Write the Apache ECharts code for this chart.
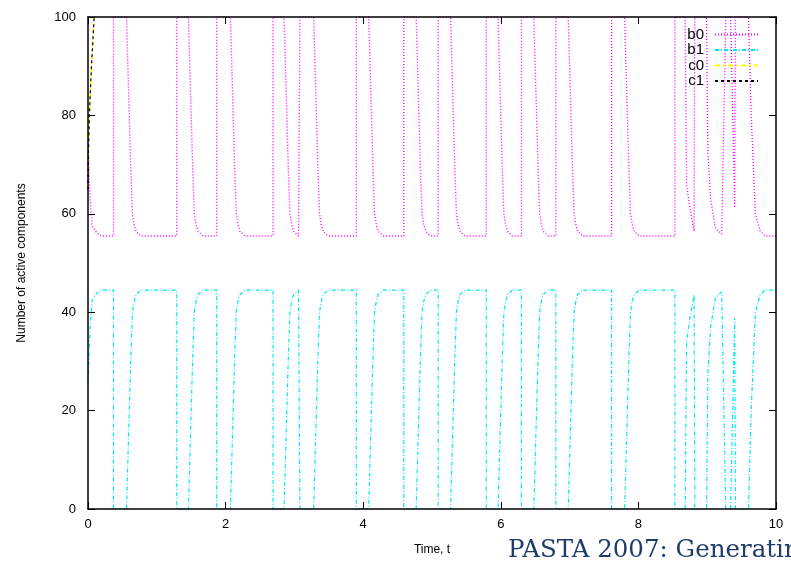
<!DOCTYPE html>
<html>
<head>
<meta charset="utf-8">
<script src="https://cdn.jsdelivr.net/npm/echarts@6/dist/echarts.min.js"></script>
<style>
  html, body { margin: 0; padding: 0; background: #fff; }
  #chart { width: 791px; height: 561px; }
</style>
</head>
<body>
<div id="chart"></div>
<script>
// time points shared by b0 / b1
const timeB = [
  0, 0.03, 0.06, 0.135, 0.2,
  0.37, 0.37, 0.56, 0.60, 0.62, 0.645, 0.67, 0.70, 0.77,
  1.29, 1.29, 1.46, 1.50, 1.52, 1.545, 1.57, 1.60, 1.67,
  1.87, 1.87, 2.07, 2.11, 2.13, 2.155, 2.18, 2.21, 2.28,
  2.69, 2.69, 2.85, 2.89, 2.91, 2.935, 2.96, 2.99, 3.06,
  3.08, 3.08, 3.28, 3.32, 3.34, 3.365, 3.39, 3.42, 3.49,
  3.90, 3.90, 4.08, 4.12, 4.14, 4.165, 4.19, 4.22, 4.29,
  4.59, 4.59, 4.77, 4.81, 4.83, 4.855, 4.88, 4.91, 4.98,
  5.09, 5.09, 5.27, 5.31, 5.33, 5.355, 5.38, 5.41, 5.48,
  5.79, 5.79, 5.96, 6.00, 6.02, 6.045, 6.07, 6.10, 6.17,
  6.30, 6.30, 6.48, 6.52, 6.54, 6.565, 6.59, 6.62, 6.69,
  6.80, 6.80, 6.98, 7.02, 7.04, 7.065, 7.09, 7.12, 7.19,
  7.61, 7.61, 7.80, 7.84, 7.86, 7.885, 7.91, 7.94, 8.01,
  8.53, 8.53, 8.68, 8.70, 8.75, 8.81, 8.82,
  8.99, 9.01, 9.05, 9.12, 9.21, 9.27,
  9.34, 9.40, 9.41,
  9.60, 9.64, 9.70, 9.77, 9.84, 10
];
const b0Values = [
  74.5, 63, 57.5, 56, 55.5,
  55.5, 100, 100, 80, 70, 60, 57.8, 56.4, 55.5,
  55.5, 100, 100, 80, 70, 60, 57.8, 56.4, 55.5,
  55.5, 100, 100, 80, 70, 60, 57.8, 56.4, 55.5,
  55.5, 100, 100, 80, 70, 60, 57.8, 56.4, 55.5,
  55.5, 100, 100, 80, 70, 60, 57.8, 56.4, 55.5,
  55.5, 100, 100, 80, 70, 60, 57.8, 56.4, 55.5,
  55.5, 100, 100, 80, 70, 60, 57.8, 56.4, 55.5,
  55.5, 100, 100, 80, 70, 60, 57.8, 56.4, 55.5,
  55.5, 100, 100, 80, 70, 60, 57.8, 56.4, 55.5,
  55.5, 100, 100, 80, 70, 60, 57.8, 56.4, 55.5,
  55.5, 100, 100, 80, 70, 60, 57.8, 56.4, 55.5,
  55.5, 100, 100, 80, 70, 60, 57.8, 56.4, 55.5,
  55.5, 100, 100, 66, 61, 56.5, 100,
  100, 72.4, 63, 57.1, 55.9, 100,
  100, 61.2, 100,
  100, 80, 60, 56.5, 55.5, 55.5
];
const b1Values = [
  25.5, 37, 42.5, 44, 44.5,
  44.5, 0, 0, 20, 30, 40, 42.2, 43.6, 44.5,
  44.5, 0, 0, 20, 30, 40, 42.2, 43.6, 44.5,
  44.5, 0, 0, 20, 30, 40, 42.2, 43.6, 44.5,
  44.5, 0, 0, 20, 30, 40, 42.2, 43.6, 44.5,
  44.5, 0, 0, 20, 30, 40, 42.2, 43.6, 44.5,
  44.5, 0, 0, 20, 30, 40, 42.2, 43.6, 44.5,
  44.5, 0, 0, 20, 30, 40, 42.2, 43.6, 44.5,
  44.5, 0, 0, 20, 30, 40, 42.2, 43.6, 44.5,
  44.5, 0, 0, 20, 30, 40, 42.2, 43.6, 44.5,
  44.5, 0, 0, 20, 30, 40, 42.2, 43.6, 44.5,
  44.5, 0, 0, 20, 30, 40, 42.2, 43.6, 44.5,
  44.5, 0, 0, 20, 30, 40, 42.2, 43.6, 44.5,
  44.5, 0, 0, 34, 39, 43.5, 0,
  0, 27.6, 37, 42.9, 44.1, 0,
  0, 38.8, 0,
  0, 20, 40, 43.5, 44.5, 44.5
];
// c0 / c1 only show at the very start, then leave the top of the range
const timeC = [0, 0.005, 0.02, 0.05, 0.09, 0.12];
const c0Values = [65, 72, 80, 90, 100, 108];
const c1Values = [65, 72, 80, 90, 100, 108];

const font = '"Liberation Sans", Arial, sans-serif';

function pairs(xs, ys) {
  return xs.map((x, i) => [x, ys[i]]);
}

const chart = echarts.init(document.getElementById('chart'), null, { renderer: 'canvas' });

// all four sides of the frame, ticks pointing inwards like gnuplot
const frameAxis = {
  z: 5,
  axisLine: { show: true, onZero: false, lineStyle: { color: '#000', width: 1.5 } },
  axisTick: { show: true, inside: true, length: 7, lineStyle: { color: '#000' } },
  splitLine: { show: false }
};

const option = {
  animation: false,
  backgroundColor: '#fff',
  grid: { left: 88, right: 15, top: 17, bottom: 52, containLabel: false },
  legend: {
    orient: 'vertical',
    right: 27,
    top: 22,
    align: 'right',
    itemWidth: 43,
    itemHeight: 14,
    itemGap: 0.5,
    textStyle: { fontFamily: font, fontSize: 15, color: '#000', padding: [0, 6, 0, 0] },
    itemStyle: { opacity: 0 },
    data: ['b0', 'b1', 'c0', 'c1']
  },
  xAxis: [
    Object.assign({}, frameAxis, {
      type: 'value', min: 0, max: 10, interval: 2, position: 'bottom',
      name: 'Time, t', nameLocation: 'middle', nameGap: 35,
      nameTextStyle: { fontFamily: font, fontSize: 12, color: '#000' },
      axisLabel: { fontFamily: font, fontSize: 13, color: '#000', margin: 9 }
    }),
    Object.assign({}, frameAxis, {
      type: 'value', min: 0, max: 10, interval: 2, position: 'top',
      axisLabel: { show: false }
    })
  ],
  yAxis: [
    Object.assign({}, frameAxis, {
      type: 'value', min: 0, max: 100, interval: 20, position: 'left',
      name: 'Number of active components', nameLocation: 'middle', nameGap: 60,
      nameTextStyle: { fontFamily: font, fontSize: 12, color: '#000' },
      axisLabel: { fontFamily: font, fontSize: 13, color: '#000', margin: 12 }
    }),
    Object.assign({}, frameAxis, {
      type: 'value', min: 0, max: 100, interval: 20, position: 'right',
      axisLabel: { show: false }
    })
  ],
  series: [
    {
      name: 'b0', type: 'line', symbol: 'none', clip: true,
      data: pairs(timeB, b0Values),
      lineStyle: { color: '#ff00ff', width: 1.4, type: [1, 2] },
      itemStyle: { color: '#ff00ff' }
    },
    {
      name: 'b1', type: 'line', symbol: 'none', clip: true,
      data: pairs(timeB, b1Values),
      lineStyle: { color: '#00e8ee', width: 1.2, type: [4, 2, 1, 2] },
      itemStyle: { color: '#00e8ee' }
    },
    {
      name: 'c0', type: 'line', symbol: 'none', clip: true,
      data: pairs(timeC, c0Values),
      lineStyle: { color: '#ffff00', width: 1.5, type: [5, 3, 2, 3] },
      itemStyle: { color: '#ffff00' }
    },
    {
      name: 'c1', type: 'line', symbol: 'none', clip: true,
      data: pairs(timeC, c1Values),
      lineStyle: { color: '#000', width: 1.2, type: [3, 3] },
      itemStyle: { color: '#000' }
    }
  ],
  graphic: [
    {
      type: 'text', left: 508, top: 538, z: 10,
      style: {
        text: 'PASTA 2007: Generating',
        fontFamily: '"DejaVu Serif", serif',
        fontSize: 24.5,
        fill: '#1f3c6c'
      }
    }
  ]
};

chart.setOption(option);
</script>
</body>
</html>
